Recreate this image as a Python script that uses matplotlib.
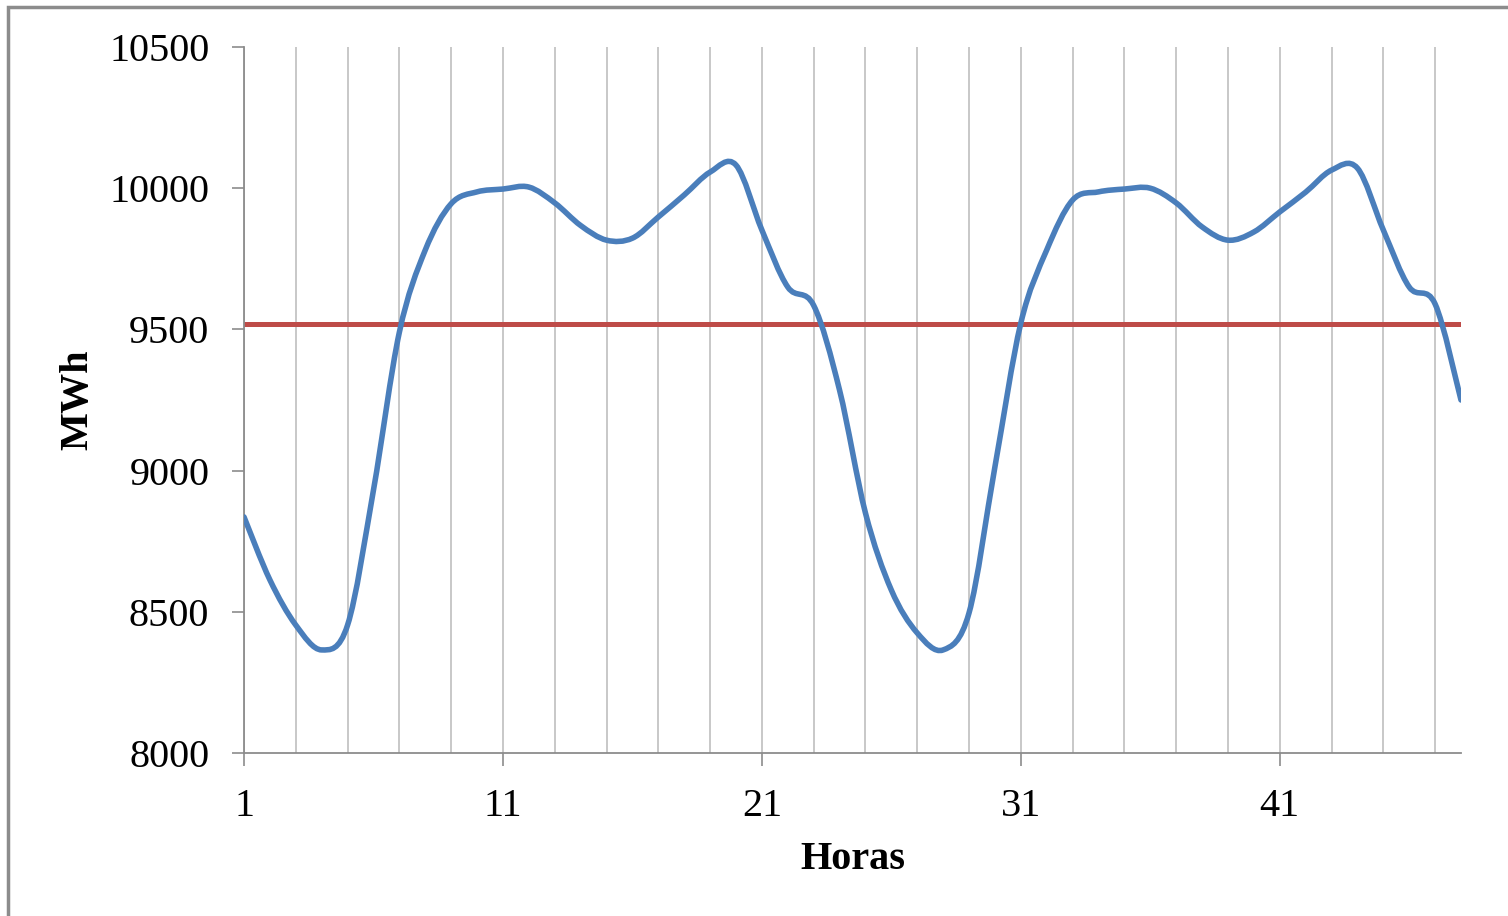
import matplotlib.pyplot as plt
import numpy as np
from matplotlib.path import Path
from matplotlib.patches import PathPatch, Rectangle

# hourly demand (MWh)
hours = list(range(1, 49))
demand = [8836, 8613, 8453, 8365, 8453, 8931, 9490, 9781, 9945, 9987,
          9997, 10004, 9948, 9868, 9816, 9823, 9898, 9976, 10057, 10082,
          9852, 9650, 9585, 9285, 8850, 8577, 8425, 8365, 8496, 9013,
          9522, 9781, 9958, 9987, 9997, 10000, 9948, 9863, 9816, 9845,
          9916, 9986, 10064, 10071, 9852, 9650, 9590, 9250]
mean_demand = 9520

x_ticks = [1, 11, 21, 31, 41]
y_ticks = [8000, 8500, 9000, 9500, 10000, 10500]

plt.rcParams['font.family'] = ['Liberation Serif', 'DejaVu Serif']

fig = plt.figure(figsize=(15.08, 9.16), dpi=100)
ax = fig.add_axes([244 / 1508, 1 - 753 / 916, (1461 - 244) / 1508, (753 - 47) / 916])

# gray frame around the chart area (like the Excel chart border)
fig.patches.append(Rectangle((8 / 1508, -0.5), 2, 1.5 - 7 / 916, transform=fig.transFigure,
                             fill=False, edgecolor='#8c8c8c', linewidth=2.5))

# smoothed line like Excel: cubic bezier with 1/6 tangents
xs = np.array(hours, dtype=float)
ys = np.array(demand, dtype=float)
n = len(xs)
verts = [(xs[0], ys[0])]
codes = [Path.MOVETO]
for i in range(n - 1):
    p0 = np.array([xs[max(i - 1, 0)], ys[max(i - 1, 0)]])
    p1 = np.array([xs[i], ys[i]])
    p2 = np.array([xs[i + 1], ys[i + 1]])
    p3 = np.array([xs[min(i + 2, n - 1)], ys[min(i + 2, n - 1)]])
    c1 = p1 + (p2 - p0) / 6
    c2 = p2 - (p3 - p1) / 6
    verts += [tuple(c1), tuple(c2), tuple(p2)]
    codes += [Path.CURVE4] * 3
ax.add_patch(PathPatch(Path(verts, codes), fill=False, edgecolor='#4a7ebb',
                       linewidth=4, capstyle='round', joinstyle='round', zorder=3))

ax.plot(hours, [mean_demand] * len(hours), color='#be4b48', linewidth=3.6, zorder=2)

ax.set_xlim(1, 48)
ax.set_ylim(8000, 10500)
ax.set_xticks(x_ticks)
ax.set_xticks(range(3, 48, 2), minor=True)
ax.set_yticks(y_ticks)
ax.grid(True, which='minor', axis='x', color='#c4c4c4', linewidth=1.3)
ax.grid(True, which='major', axis='x', color='#c4c4c4', linewidth=1.3)
ax.tick_params(axis='x', which='minor', length=0)
ax.tick_params(axis='both', which='major', length=9, width=1.2, color='#8c8c8c',
               labelsize=29, pad=16)
for side in ['top', 'right']:
    ax.spines[side].set_visible(False)
for side in ['left', 'bottom']:
    ax.spines[side].set_color('#8c8c8c')
    ax.spines[side].set_linewidth(1.3)

ax.set_xlabel('Horas', fontsize=29, fontweight='bold', labelpad=12)
ax.set_ylabel('MWh', fontsize=29, fontweight='bold', labelpad=9)

fig.savefig('out.png', dpi=100)
